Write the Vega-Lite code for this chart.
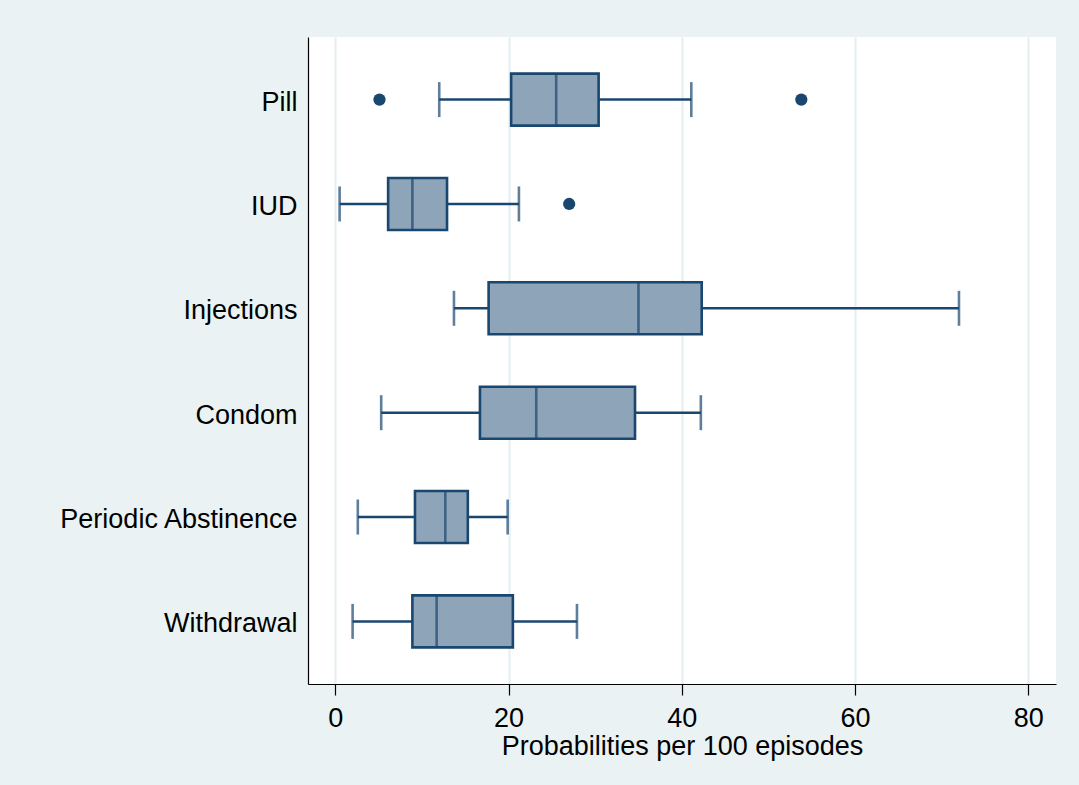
{
  "$schema": "https://vega.github.io/schema/vega-lite/v6.json",
  "autosize": {"type": "none"},
  "width": 748,
  "height": 647,
  "padding": {"left": 308, "top": 37, "right": 23, "bottom": 101},
  "background": "#EAF2F3",
  "config": {
    "view": {"stroke": null, "fill": "white"},
    "font": "Liberation Sans"
  },
  "datasets": {
    "boxes": [
      {"method": "Pill", "lower": 12.0, "q1": 20.3, "median": 25.5, "q3": 30.4, "upper": 41.1},
      {"method": "IUD", "lower": 0.5, "q1": 6.1, "median": 8.9, "q3": 12.9, "upper": 21.2},
      {"method": "Injections", "lower": 13.7, "q1": 17.7, "median": 35.0, "q3": 42.3, "upper": 72.0},
      {"method": "Condom", "lower": 5.3, "q1": 16.7, "median": 23.2, "q3": 34.6, "upper": 42.2},
      {"method": "Periodic Abstinence", "lower": 2.6, "q1": 9.2, "median": 12.7, "q3": 15.3, "upper": 19.9},
      {"method": "Withdrawal", "lower": 2.0, "q1": 8.9, "median": 11.7, "q3": 20.5, "upper": 27.9}
    ],
    "outliers": [
      {"method": "Pill", "value": 5.1},
      {"method": "Pill", "value": 53.8},
      {"method": "IUD", "value": 27.0}
    ]
  },
  "encoding": {
    "y": {
      "field": "method",
      "type": "nominal",
      "sort": null,
      "scale": {
        "domain": ["Pill", "IUD", "Injections", "Condom", "Periodic Abstinence", "Withdrawal"],
        "paddingInner": 0,
        "paddingOuter": 0.1
      },
      "axis": {
        "title": null,
        "ticks": false,
        "labelPadding": 11,
        "labelOffset": 3,
        "labelLimit": 400,
        "labelFontSize": 27,
        "labelColor": "#000000",
        "labelFont": "Liberation Sans",
        "domainColor": "#000000",
        "domainWidth": 1.2,
        "grid": false
      }
    }
  },
  "layer": [
    {
      "data": {"name": "boxes"},
      "mark": {"type": "rule", "color": "#1A476F", "strokeWidth": 2.5},
      "encoding": {
        "x": {
          "field": "lower",
          "type": "quantitative",
          "scale": {"domain": [-3.15, 83.2], "nice": false, "zero": false},
          "axis": {
            "values": [0, 20, 40, 60, 80],
            "title": "Probabilities per 100 episodes",
            "titleFontSize": 27,
            "titleFontWeight": "normal",
            "titleColor": "#000000",
            "titleFont": "Liberation Sans",
            "titlePadding": 2,
            "labelFontSize": 27,
            "labelColor": "#000000",
            "labelFont": "Liberation Sans",
            "labelPadding": 10,
            "tickSize": 11,
            "tickColor": "#000000",
            "tickWidth": 1.2,
            "domainColor": "#000000",
            "domainWidth": 1.2,
            "grid": true,
            "gridColor": "#E6EFF2",
            "gridWidth": 2.2
          }
        },
        "x2": {"field": "upper"}
      }
    },
    {
      "data": {"name": "boxes"},
      "mark": {"type": "tick", "color": "#1A476F", "thickness": 2.6, "size": 35, "orient": "vertical"},
      "encoding": {"x": {"field": "lower", "type": "quantitative"}}
    },
    {
      "data": {"name": "boxes"},
      "mark": {"type": "tick", "color": "#1A476F", "thickness": 2.6, "size": 35, "orient": "vertical"},
      "encoding": {"x": {"field": "upper", "type": "quantitative"}}
    },
    {
      "data": {"name": "boxes"},
      "mark": {"type": "bar", "fill": "#8EA4B8", "stroke": "#1A476F", "strokeWidth": 2.6, "size": 52},
      "encoding": {
        "x": {"field": "q1", "type": "quantitative"},
        "x2": {"field": "q3"}
      }
    },
    {
      "data": {"name": "boxes"},
      "mark": {"type": "tick", "color": "#1A476F", "thickness": 2.6, "size": 52, "orient": "vertical"},
      "encoding": {"x": {"field": "median", "type": "quantitative"}}
    },
    {
      "data": {"name": "outliers"},
      "mark": {"type": "point", "filled": true, "shape": "circle", "color": "#1A476F", "opacity": 1, "size": 150},
      "encoding": {"x": {"field": "value", "type": "quantitative"}}
    }
  ]
}
